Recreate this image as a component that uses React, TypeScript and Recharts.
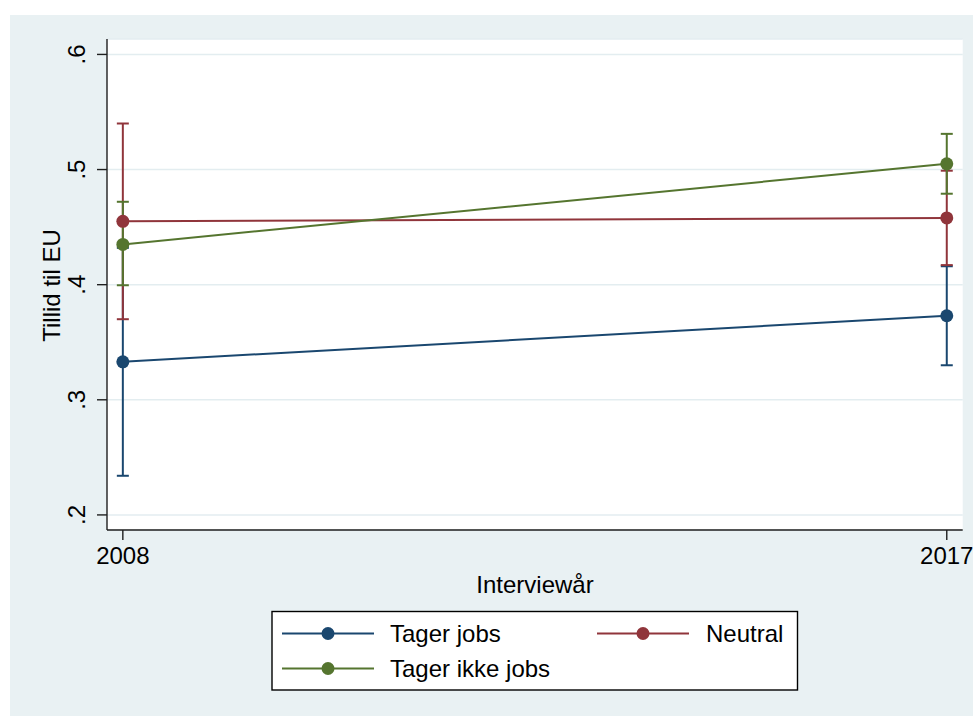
import React from 'react';
import { ComposedChart, Line, XAxis, YAxis, CartesianGrid, ErrorBar } from 'recharts';

// ---- data ----
const years = [2008, 2017];
const tagerJobs = [0.333, 0.373];
const tagerJobsLow = [0.234, 0.330];
const tagerJobsHigh = [0.432, 0.416];
const neutral = [0.455, 0.458];
const neutralLow = [0.370, 0.417];
const neutralHigh = [0.540, 0.499];
const tagerIkkeJobs = [0.435, 0.505];
const tagerIkkeJobsLow = [0.3995, 0.479];
const tagerIkkeJobsHigh = [0.472, 0.531];
const yTicks = [0.2, 0.3, 0.4, 0.5, 0.6];
const xTicks = [2008, 2017];
const seriesNames = ['Tager jobs', 'Neutral', 'Tager ikke jobs'];
const xTitle = 'Interviewår';
const yTitle = 'Tillid til EU';

const FONT = '"Liberation Sans", Arial, Helvetica, sans-serif';
const BG = '#E9F1F3';
const AXIS = '#1f1f1f';

const series = [
  { key: 'jobs', name: seriesNames[0], color: '#1a476f', mean: tagerJobs, low: tagerJobsLow, high: tagerJobsHigh },
  { key: 'neutral', name: seriesNames[1], color: '#90353b', mean: neutral, low: neutralLow, high: neutralHigh },
  { key: 'ikke', name: seriesNames[2], color: '#55752f', mean: tagerIkkeJobs, low: tagerIkkeJobsLow, high: tagerIkkeJobsHigh },
];

const data = years.map((year, i) => {
  const row: any = { year };
  series.forEach((s) => {
    row[s.key] = s.mean[i];
    row[s.key + 'Err'] = [s.mean[i] - s.low[i], s.high[i] - s.mean[i]];
  });
  return row;
});

const fmt = (v: number) => String(Math.round(v * 10) / 10).replace(/^0/, '');

const YTick = (props: any) => {
  const { y, payload } = props;
  return (
    <text x={85} y={y} transform={`rotate(-90, 85, ${y})`} textAnchor="middle" fontSize={24} fill="#000" fontFamily={FONT}>
      {fmt(payload.value)}
    </text>
  );
};

const XTick = (props: any) => {
  const { x, payload } = props;
  return (
    <text x={x} y={564} textAnchor="middle" fontSize={24} fill="#000" fontFamily={FONT}>
      {payload.value}
    </text>
  );
};

const legendLayout = [
  { x0: 282, x1: 374, tx: 390, y: 633.5 },
  { x0: 597, x1: 689, tx: 706, y: 633.5 },
  { x0: 282, x1: 374, tx: 390, y: 668.5 },
];

export default function App() {
  return (
    <div style={{ position: 'absolute', left: 0, top: 0, width: 973, height: 716, background: '#fff', overflow: 'hidden' }}>
      <div style={{ position: 'absolute', left: 10, top: 15, width: 963, height: 701, background: BG }} />
      <div style={{ position: 'absolute', left: 0, top: 0 }}>
        <ComposedChart width={973} height={716} data={data} margin={{ top: 39, right: 10.3, bottom: 0, left: 0 }}>
          <CartesianGrid vertical={false} fill="#fff" stroke="#E3EDF0" strokeWidth={1.5} />
          <XAxis
            dataKey="year"
            type="number"
            domain={[2007.827, 2017.174]}
            ticks={xTicks}
            allowDataOverflow
            height={186}
            tickSize={10}
            tick={<XTick />}
            axisLine={{ stroke: AXIS, strokeWidth: 1.4 }}
            tickLine={{ stroke: AXIS, strokeWidth: 1.4 }}
          />
          <YAxis
            type="number"
            domain={[0.1869, 0.6134]}
            ticks={yTicks}
            allowDataOverflow
            width={107}
            tickSize={10}
            tick={<YTick />}
            axisLine={{ stroke: AXIS, strokeWidth: 1.4 }}
            tickLine={{ stroke: AXIS, strokeWidth: 1.4 }}
          />
          {series.map((s) => (
            <Line
              key={s.key + '-ci'}
              dataKey={s.key}
              stroke="none"
              dot={false}
              activeDot={false}
              isAnimationActive={false}
              legendType="none"
            >
              <ErrorBar dataKey={s.key + 'Err'} direction="y" width={6} stroke={s.color} strokeWidth={2} isAnimationActive={false} />
            </Line>
          ))}
          {series.map((s) => (
            <Line
              key={s.key}
              dataKey={s.key}
              name={s.name}
              stroke={s.color}
              strokeWidth={2}
              dot={{ r: 6.5, fill: s.color, stroke: 'none' }}
              activeDot={false}
              isAnimationActive={false}
            />
          ))}
        </ComposedChart>
      </div>
      <svg width={973} height={716} style={{ position: 'absolute', left: 0, top: 0, pointerEvents: 'none' }} fontFamily={FONT}>
        <text x={60} y={285.5} transform="rotate(-90, 60, 285.5)" textAnchor="middle" fontSize={24} fill="#000">
          {yTitle}
        </text>
        <text x={535} y={592.5} textAnchor="middle" fontSize={24} fill="#000">
          {xTitle}
        </text>
        <rect x={272} y={611.5} width={525.5} height={78.5} fill="#fff" stroke="#000" strokeWidth={1.4} />
        {series.map((s, i) => {
          const L = legendLayout[i];
          return (
            <g key={s.key}>
              <line x1={L.x0} x2={L.x1} y1={L.y} y2={L.y} stroke={s.color} strokeWidth={2} />
              <circle cx={(L.x0 + L.x1) / 2} cy={L.y} r={6.5} fill={s.color} />
              <text x={L.tx} y={L.y + 8.5} fontSize={24} fill="#000">
                {s.name}
              </text>
            </g>
          );
        })}
      </svg>
    </div>
  );
}
